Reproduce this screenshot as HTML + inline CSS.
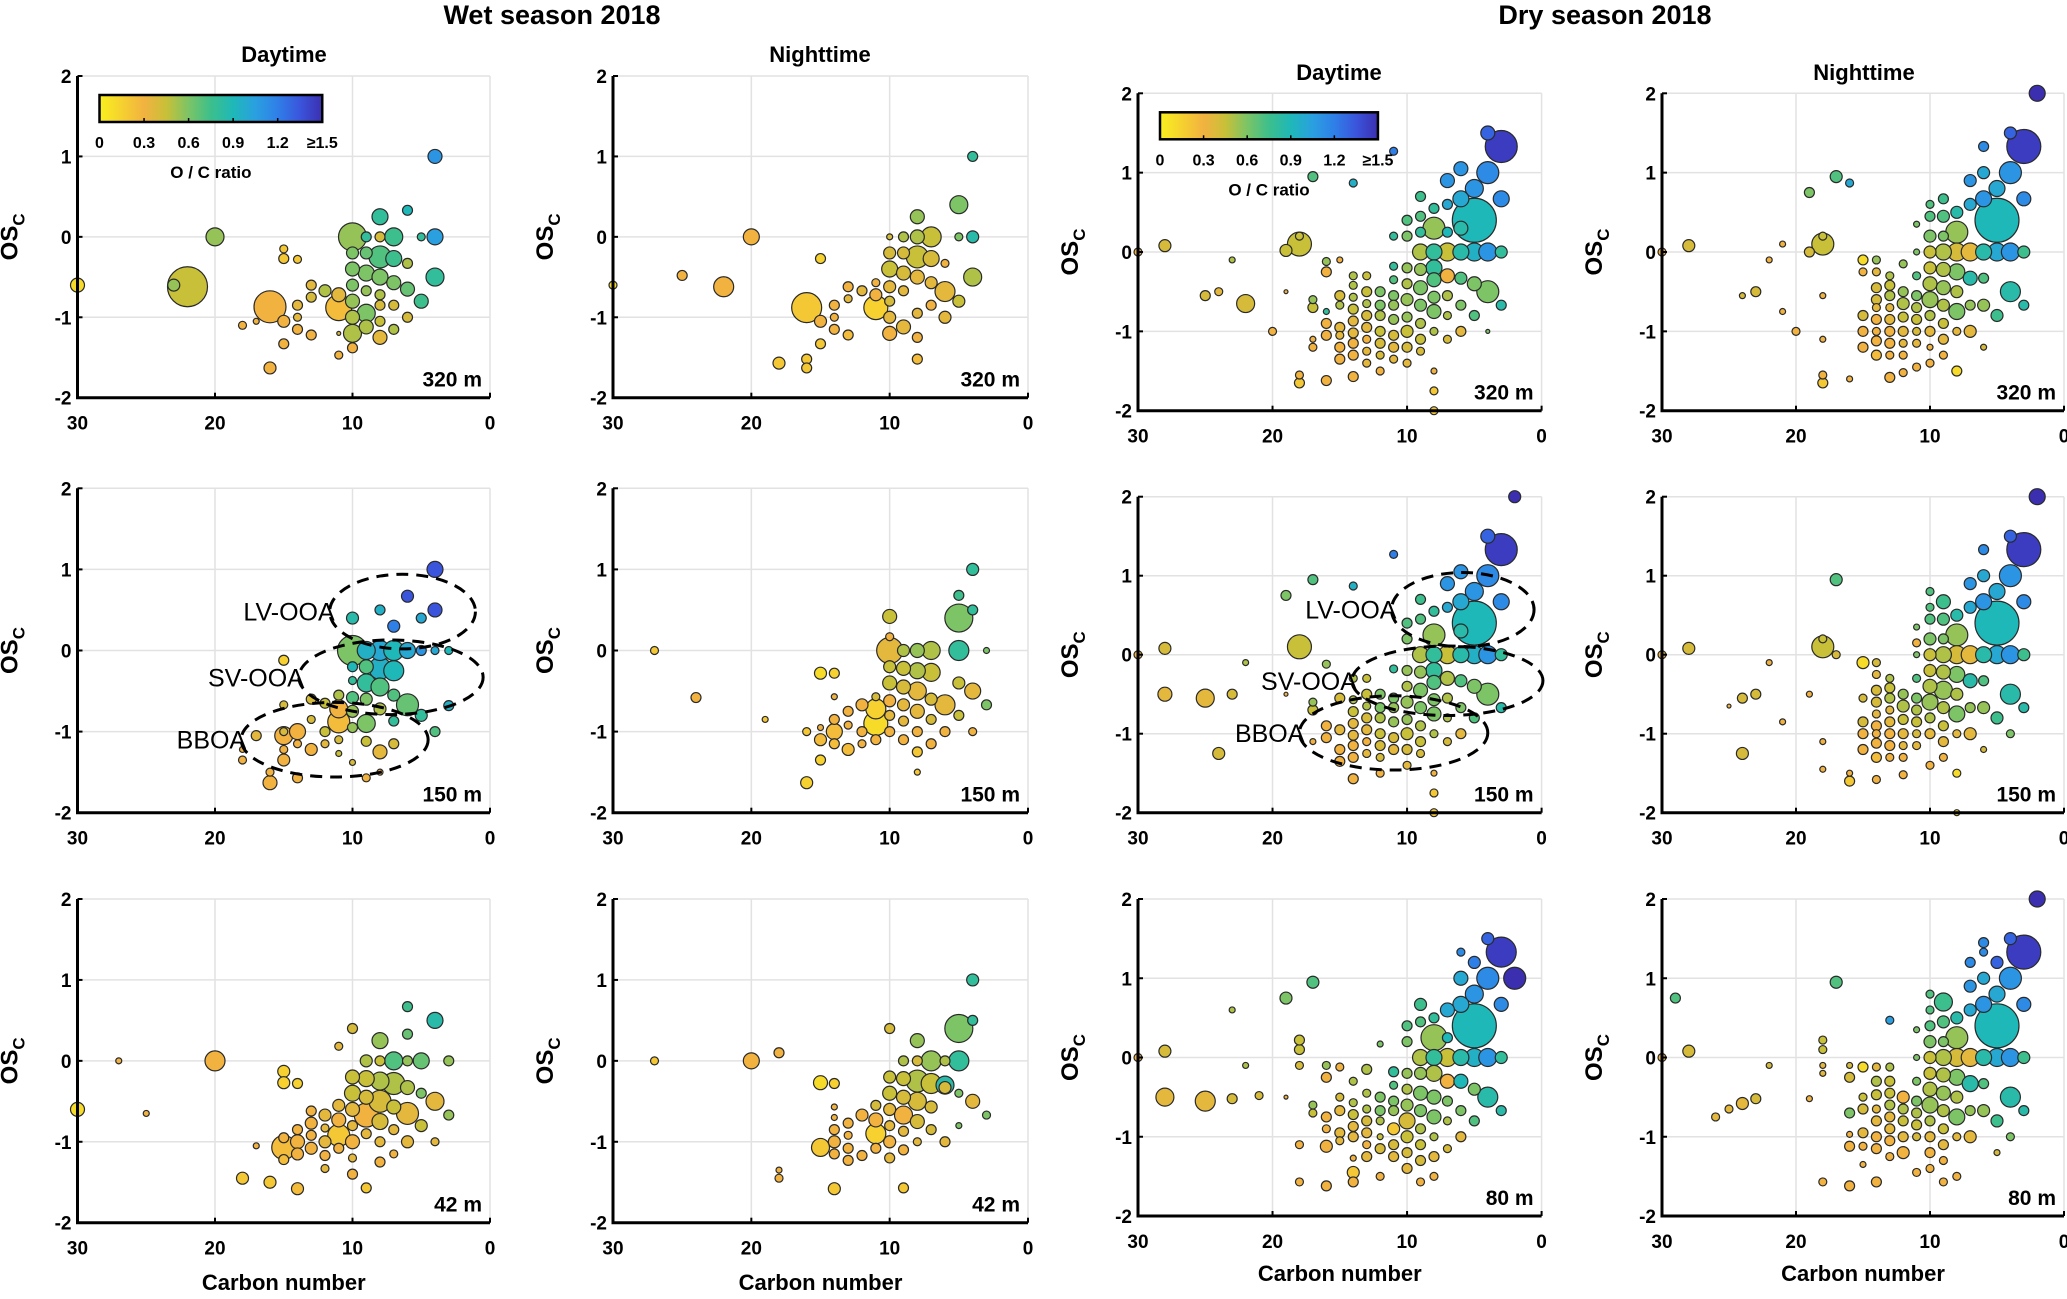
<!DOCTYPE html>
<html><head><meta charset="utf-8"><style>
body{margin:0;background:#fff}
svg text{font-family:"Liberation Sans",Arial,sans-serif}
</style></head><body>
<svg id="fig" width="2067" height="1294" viewBox="0 0 2067 1294" xmlns="http://www.w3.org/2000/svg">
<defs>
<linearGradient id="cmap" x1="0" x2="1" y1="0" y2="0">
<stop offset="0" stop-color="#f9f01e"/><stop offset="0.2" stop-color="#f2b240"/><stop offset="0.3" stop-color="#c8c038"/><stop offset="0.4" stop-color="#7cc466"/><stop offset="0.5" stop-color="#3cbf8c"/><stop offset="0.6" stop-color="#1fb8b8"/><stop offset="0.7" stop-color="#2aa0e0"/><stop offset="0.8" stop-color="#2f7fe8"/><stop offset="0.9" stop-color="#3a55dc"/><stop offset="1" stop-color="#3b2fb0"/>
</linearGradient>
</defs>
<text x="552" y="24" text-anchor="middle" font-size="27" font-weight="bold">Wet season 2018</text>
<text x="1605" y="24" text-anchor="middle" font-size="27" font-weight="bold">Dry season 2018</text>
</svg>
<script>
// [carbon number, OSc, bubble radius, O/C ratio]
const wetDay320=[[30,-0.6,7,0.1],[22,-0.62,20,0.45],[23,-0.6,6,0.55],[20,0,9,0.55],[16,-0.87,16,0.3],[15,-0.15,4,0.2],[15,-0.27,5,0.2],[14,-0.28,4,0.2],[18,-1.1,4,0.3],[17,-1.05,3,0.3],[16,-1.63,6,0.3],[15,-1.05,6,0.3],[15,-1.33,5,0.3],[14,-0.85,5,0.35],[14,-1,4,0.35],[14,-1.15,5,0.3],[13,-0.6,5,0.35],[13,-0.75,5,0.4],[13,-1.22,5,0.3],[12,-0.67,6,0.5],[11,-0.72,7,0.35],[11,-0.88,13,0.25],[11,-1.47,4,0.3],[11,-1.2,2,0.4],[10,-1.38,5,0.3],[10,0,14,0.55],[10,-0.2,6,0.6],[10,-0.4,7,0.6],[10,-0.6,6,0.6],[10,-0.8,7,0.55],[10,-1,7,0.5],[10,-1.2,9,0.5],[9,0,5,0.8],[9,-0.2,6,0.65],[9,-0.45,8,0.6],[9,-0.67,5,0.55],[9,-0.95,9,0.6],[9,-1.12,7,0.5],[8,0.25,8,0.8],[8,0,5,0.4],[8,-0.25,11,0.7],[8,-0.5,8,0.6],[8,-0.72,5,0.5],[8,-0.85,5,0.4],[8,-1.05,5,0.45],[8,-1.25,7,0.35],[7,0,9,0.75],[7,-0.27,8,0.75],[7,-0.57,7,0.6],[7,-0.85,5,0.4],[7,-1.15,5,0.5],[6,0.33,5,0.9],[6,-0.33,5,0.5],[6,-0.65,7,0.65],[6,-1,5,0.4],[5,0,4,0.8],[5,-0.8,7,0.75],[4,1,7,1.1],[4,0,8,1.05],[4,-0.5,9,0.8]];
const wetNight320=[[30,-0.6,4,0.1],[25,-0.48,5,0.3],[22,-0.62,10,0.3],[20,0,8,0.3],[16,-0.88,15,0.2],[15,-0.27,5,0.15],[18,-1.57,6,0.2],[16,-1.52,5,0.2],[16,-1.63,5,0.2],[15,-1.05,6,0.3],[15,-1.33,5,0.2],[14,-0.85,5,0.3],[14,-1,4,0.3],[14,-1.15,5,0.3],[13,-0.62,5,0.3],[13,-0.77,4,0.35],[13,-1.22,5,0.25],[12,-0.67,5,0.35],[11,-0.57,4,0.3],[11,-0.72,6,0.3],[11,-0.88,12,0.15],[10,0,3,0.4],[10,-0.2,6,0.4],[10,-0.4,8,0.45],[10,-0.62,6,0.35],[10,-0.8,5,0.4],[10,-1,6,0.35],[10,-1.2,7,0.3],[9,0,5,0.5],[9,-0.2,6,0.4],[9,-0.45,7,0.4],[9,-0.67,5,0.35],[9,-1.12,7,0.35],[8,0.25,7,0.55],[8,0,7,0.5],[8,-0.25,11,0.45],[8,-0.5,7,0.35],[8,-0.95,5,0.35],[8,-1.25,5,0.3],[8,-1.52,5,0.25],[7,0,10,0.45],[7,-0.27,8,0.4],[7,-0.57,6,0.35],[7,-0.85,5,0.3],[6,-0.33,4,0.3],[6,-0.68,10,0.35],[6,-1,6,0.35],[5,0.4,9,0.6],[5,0,4,0.6],[5,-0.8,6,0.45],[4,1,5,0.8],[4,0,6,0.85],[4,-0.5,9,0.5]];
const wetDay150=[[18,-1.22,3,0.3],[18,-1.35,4,0.3],[17,-1.05,5,0.35],[16,-1.5,4,0.3],[16,-1.63,7,0.3],[15,-0.12,5,0.15],[15,-0.67,4,0.4],[15,-1,4,0.4],[15,-1.05,9,0.3],[15,-1.22,4,0.3],[15,-1.35,6,0.3],[14,-1,8,0.3],[14,-1.15,4,0.3],[14,-1.57,5,0.3],[13,-0.6,5,0.4],[13,-0.85,4,0.4],[13,-1.22,6,0.3],[12,-0.65,5,0.45],[12,-1,5,0.45],[12,-1.15,4,0.35],[11,-0.55,5,0.5],[11,-0.72,9,0.3],[11,-0.88,11,0.25],[11,-1.1,4,0.4],[11,-1.27,3,0.45],[10,0.4,6,0.85],[10,0,15,0.6],[10,-0.2,5,0.9],[10,-0.37,4,0.8],[10,-0.58,6,0.7],[10,-0.75,6,0.55],[10,-0.95,5,0.55],[10,-1.38,3,0.4],[9,0,9,0.95],[9,-0.2,7,0.7],[9,-0.4,9,0.8],[9,-0.6,6,0.6],[9,-0.9,9,0.6],[9,-1.12,5,0.45],[9,-1.57,4,0.3],[8,0.5,5,0.95],[8,0,10,1.0],[8,-0.22,11,0.95],[8,-0.45,9,0.7],[8,-0.72,6,0.5],[8,-1.25,7,0.35],[8,-1.5,3,0.3],[7,0.3,6,1.2],[7,0,10,0.9],[7,-0.25,10,0.9],[7,-0.55,6,0.7],[7,-0.87,5,0.8],[7,-1.15,5,0.4],[6,0.67,6,1.35],[6,0,8,1.0],[6,-0.67,11,0.65],[5,0.4,5,1.0],[5,0,5,1.1],[5,-0.8,6,0.8],[4,1,8,1.35],[4,0.5,7,1.35],[4,0,4,1.0],[4,-1,5,0.7],[3,0,4,0.9],[3,-0.68,5,0.95]];
const wetNight150=[[27,0,4,0.2],[24,-0.58,5,0.3],[19,-0.85,3,0.2],[16,-1,4,0.2],[16,-1.63,6,0.15],[15,-0.28,6,0.1],[15,-0.95,3,0.3],[15,-1.1,6,0.25],[15,-1.35,5,0.15],[14,-0.28,5,0.15],[14,-0.57,3,0.3],[14,-0.85,5,0.3],[14,-1,8,0.25],[14,-1.15,5,0.25],[13,-0.75,5,0.3],[13,-0.92,4,0.3],[13,-1.22,6,0.25],[12,-0.67,6,0.3],[12,-1,5,0.3],[12,-1.15,4,0.3],[11,-0.57,4,0.4],[11,-0.72,10,0.15],[11,-0.9,12,0.1],[11,-1.1,5,0.3],[10,0.42,7,0.45],[10,0.17,4,0.3],[10,0,13,0.35],[10,-0.2,6,0.45],[10,-0.4,7,0.45],[10,-0.62,6,0.3],[10,-0.8,5,0.35],[10,-1,5,0.3],[9,0,6,0.5],[9,-0.22,7,0.45],[9,-0.45,7,0.4],[9,-0.67,6,0.35],[9,-0.87,5,0.35],[9,-1.1,5,0.3],[8,0,7,0.55],[8,-0.25,8,0.5],[8,-0.5,9,0.35],[8,-0.75,7,0.35],[8,-1,5,0.3],[8,-1.25,5,0.2],[8,-1.5,3,0.2],[7,0,9,0.5],[7,-0.27,9,0.45],[7,-0.6,6,0.4],[7,-0.85,5,0.4],[7,-1.15,5,0.3],[6,-0.67,10,0.35],[6,-1,5,0.3],[5,0.68,5,0.75],[5,0.4,14,0.6],[5,0,10,0.8],[5,-0.4,6,0.45],[5,-0.8,5,0.45],[4,1,6,0.8],[4,0.5,5,0.8],[4,-0.5,8,0.35],[4,-1,4,0.3],[3,0,3,0.6],[3,-0.67,5,0.6]];
const wetDay42=[[30,-0.6,7,0.1],[27,0,3,0.3],[25,-0.65,3,0.3],[20,0,10,0.3],[18,-1.45,6,0.2],[17,-1.05,3,0.3],[16,-1.5,6,0.2],[15,-0.13,6,0.15],[15,-0.27,6,0.15],[15,-0.95,5,0.3],[15,-1.07,12,0.25],[15,-1.22,5,0.25],[14,-0.28,5,0.15],[14,-0.85,5,0.3],[14,-1,7,0.3],[14,-1.15,6,0.3],[14,-1.58,6,0.25],[13,-0.62,5,0.3],[13,-0.77,6,0.3],[13,-0.92,5,0.3],[13,-1.08,6,0.3],[12,-0.67,6,0.35],[12,-0.83,4,0.35],[12,-1,6,0.35],[12,-1.17,5,0.3],[12,-1.33,4,0.35],[11,0.18,4,0.35],[11,-0.55,6,0.35],[11,-0.73,7,0.3],[11,-0.92,11,0.2],[11,-1.08,5,0.3],[10,0.4,5,0.4],[10,-0.2,7,0.45],[10,-0.4,8,0.45],[10,-0.6,7,0.35],[10,-0.8,5,0.35],[10,-1,7,0.3],[10,-1.2,4,0.35],[10,-1.4,5,0.3],[9,0,6,0.5],[9,-0.22,8,0.45],[9,-0.45,7,0.4],[9,-0.67,12,0.3],[9,-0.9,5,0.35],[9,-1.57,5,0.2],[8,0.25,8,0.55],[8,0,5,0.45],[8,-0.25,9,0.5],[8,-0.5,11,0.4],[8,-0.75,8,0.4],[8,-1,5,0.35],[8,-1.25,5,0.3],[7,0,9,0.7],[7,-0.28,11,0.5],[7,-0.57,7,0.45],[7,-0.85,5,0.35],[7,-1.15,4,0.3],[6,0.67,5,0.75],[6,0.33,5,0.65],[6,0,5,0.55],[6,-0.33,7,0.5],[6,-0.65,11,0.35],[6,-1,6,0.35],[5,0,8,0.65],[5,-0.4,5,0.6],[5,-0.8,6,0.45],[4,0.5,8,0.85],[4,-0.5,9,0.35],[4,-1,4,0.35],[3,0,5,0.55],[3,-0.67,5,0.55]];
const wetNight42=[[27,0,4,0.2],[20,0,8,0.3],[18,0.1,5,0.3],[18,-1.35,3,0.3],[18,-1.45,4,0.3],[15,-0.27,7,0.1],[15,-1.07,9,0.2],[14,-0.28,5,0.15],[14,-0.57,3,0.3],[14,-0.7,3,0.3],[14,-0.85,5,0.3],[14,-1,6,0.3],[14,-1.15,5,0.3],[14,-1.58,6,0.2],[13,-0.77,5,0.3],[13,-0.92,4,0.3],[13,-1.08,5,0.3],[13,-1.23,5,0.3],[12,-0.67,6,0.3],[12,-1.17,5,0.3],[11,-0.55,5,0.4],[11,-0.73,7,0.3],[11,-0.9,10,0.15],[11,-1.08,5,0.3],[10,0.4,5,0.4],[10,-0.2,6,0.45],[10,-0.4,7,0.45],[10,-0.6,6,0.35],[10,-0.8,5,0.35],[10,-1,6,0.3],[10,-1.2,5,0.35],[9,0,5,0.5],[9,-0.22,7,0.45],[9,-0.45,7,0.4],[9,-0.67,9,0.3],[9,-0.87,5,0.35],[9,-1.1,5,0.3],[9,-1.57,5,0.2],[8,0.25,7,0.55],[8,0,5,0.4],[8,-0.25,11,0.5],[8,-0.5,9,0.4],[8,-0.75,7,0.4],[8,-1,4,0.35],[7,0,10,0.55],[7,-0.28,10,0.45],[7,-0.57,6,0.4],[7,-0.85,5,0.4],[6,0,5,0.5],[6,-0.3,9,0.85],[6,-0.33,6,0.4],[6,-1,5,0.35],[5,0.4,14,0.6],[5,0,10,0.8],[5,-0.4,4,0.6],[5,-0.8,3,0.6],[4,1,6,0.8],[4,0.5,5,0.8],[4,-0.5,7,0.35],[3,-0.67,4,0.6]];
const dryDay320=[[30,0,4,0.3],[28,0.08,6,0.4],[23,-0.1,3,0.5],[24,-0.5,4,0.35],[25,-0.55,5,0.4],[22,-0.65,9,0.4],[20,-1,4,0.3],[19,-0.5,2,0.3],[18,0.1,12,0.45],[18,0.2,4,0.45],[19,0.02,6,0.45],[17,0.95,5,0.7],[16,-0.12,4,0.55],[16,-0.25,5,0.3],[17,-0.6,4,0.55],[17,-0.7,5,0.45],[16,-0.75,3,0.8],[16,-0.9,5,0.3],[16,-1.05,5,0.3],[17,-1.1,3,0.3],[17,-1.2,4,0.3],[18,-1.55,4,0.3],[18,-1.65,5,0.2],[16,-1.62,5,0.3],[15,-0.1,3,0.3],[15,-0.55,5,0.4],[15,-0.67,4,0.5],[15,-0.95,5,0.35],[15,-1.05,4,0.35],[15,-1.2,5,0.3],[15,-1.35,5,0.3],[14,0.87,4,0.95],[14,-0.3,4,0.5],[14,-0.42,4,0.5],[14,-0.57,4,0.5],[14,-0.72,5,0.45],[14,-0.87,5,0.35],[14,-1.02,5,0.35],[14,-1.15,5,0.3],[14,-1.3,5,0.3],[14,-1.57,5,0.3],[13,-0.3,4,0.45],[13,-0.5,5,0.45],[13,-0.65,4,0.5],[13,-0.8,5,0.4],[13,-0.95,5,0.35],[13,-1.1,4,0.3],[13,-1.25,4,0.35],[13,-1.4,4,0.35],[12,-0.5,5,0.6],[12,-0.67,5,0.6],[12,-0.8,5,0.5],[12,-1,5,0.45],[12,-1.15,5,0.4],[12,-1.3,4,0.4],[12,-1.5,4,0.3],[11,1.27,4,1.2],[11,0.2,4,0.8],[11,-0.18,4,0.8],[11,-0.35,4,0.7],[11,-0.55,5,0.6],[11,-0.67,5,0.55],[11,-0.85,5,0.55],[11,-1.05,5,0.4],[11,-1.2,5,0.35],[11,-1.35,4,0.35],[10,0.4,5,0.7],[10,0.2,5,0.6],[10,-0.2,5,0.55],[10,-0.4,5,0.5],[10,-0.6,6,0.55],[10,-0.82,5,0.55],[10,-1,6,0.45],[10,-1.2,5,0.4],[10,-1.4,4,0.35],[9,0.7,5,0.75],[9,0.45,5,0.7],[9,0.25,5,0.8],[9,0,8,0.5],[9,-0.22,6,0.55],[9,-0.45,7,0.6],[9,-0.67,6,0.6],[9,-0.9,5,0.5],[9,-1.1,5,0.45],[9,-1.25,4,0.4],[8,0.55,5,0.8],[8,0.3,11,0.55],[8,0,8,0.8],[8,-0.2,8,0.8],[8,-0.35,7,0.7],[8,-0.57,6,0.6],[8,-0.75,7,0.6],[8,-1,4,0.5],[8,-1.5,3,0.3],[8,-1.75,4,0.2],[8,-2,4,0.2],[7,0.9,7,1.1],[7,0.6,5,1.0],[7,0.25,5,0.9],[7,0,9,0.45],[7,-0.3,7,0.3],[7,-0.55,5,0.5],[7,-0.8,4,0.5],[7,-1.1,4,0.4],[6,1.05,7,1.1],[6,0.67,8,1.0],[6,0.3,7,0.85],[6,0,8,0.85],[6,-0.33,6,0.7],[6,-0.67,5,0.6],[6,-1,5,0.35],[5,0.8,9,1.1],[5,0.4,22,0.9],[5,0,9,0.95],[5,-0.4,7,0.6],[5,-0.8,5,0.7],[4,1.5,7,1.3],[4,1,11,1.15],[4,0,9,1.1],[4,-0.5,11,0.6],[4,-1,2,0.6],[3,1.33,16,1.45],[3,0.67,8,1.15],[3,0,6,0.8],[3,-0.67,5,0.85]];
const dryNight320=[[30,0,4,0.3],[28,0.08,6,0.4],[24,-0.55,3,0.4],[23,-0.5,5,0.4],[21,-0.75,3,0.3],[20,-1,4,0.3],[21,0.1,3,0.3],[22,-0.1,3,0.3],[19,0.75,5,0.6],[17,0.95,6,0.7],[18,0.1,11,0.45],[18,0.2,4,0.45],[19,0,5,0.4],[18,-0.55,3,0.3],[18,-1.1,3,0.3],[18,-1.55,4,0.3],[18,-1.65,5,0.2],[16,0.87,4,1.0],[16,-1.6,3,0.3],[15,-0.1,5,0.1],[15,-0.25,4,0.3],[15,-0.8,5,0.4],[15,-1,5,0.3],[15,-1.2,5,0.3],[14,-0.1,4,0.55],[14,-0.25,4,0.35],[14,-0.45,5,0.4],[14,-0.6,5,0.4],[14,-0.7,4,0.35],[14,-0.85,5,0.3],[14,-1,4,0.3],[14,-1.12,5,0.3],[14,-1.3,5,0.25],[13,-0.3,4,0.5],[13,-0.42,5,0.45],[13,-0.55,5,0.5],[13,-0.7,4,0.35],[13,-0.85,5,0.35],[13,-1,5,0.3],[13,-1.15,5,0.3],[13,-1.3,4,0.3],[13,-1.58,5,0.3],[12,-0.15,4,0.55],[12,-0.5,5,0.55],[12,-0.65,6,0.5],[12,-0.82,5,0.45],[12,-1,5,0.35],[12,-1.15,4,0.35],[12,-1.3,4,0.3],[12,-1.52,4,0.3],[11,0.35,3,0.6],[11,0,3,0.6],[11,-0.3,4,0.7],[11,-0.55,5,0.6],[11,-0.7,5,0.5],[11,-0.85,5,0.45],[11,-1,4,0.4],[11,-1.15,4,0.35],[11,-1.45,4,0.3],[10,0.6,4,0.7],[10,0.45,5,0.7],[10,0.2,6,0.6],[10,0,6,0.45],[10,-0.2,6,0.45],[10,-0.4,7,0.5],[10,-0.6,8,0.55],[10,-0.8,5,0.5],[10,-1,5,0.35],[10,-1.2,3,0.3],[10,-1.4,4,0.3],[9,0.67,5,0.75],[9,0.45,6,0.7],[9,0.2,5,0.6],[9,0,8,0.5],[9,-0.22,7,0.5],[9,-0.45,7,0.55],[9,-0.67,6,0.5],[9,-0.9,5,0.45],[9,-1.1,5,0.35],[9,-1.3,4,0.3],[8,0.5,6,0.85],[8,0.25,11,0.55],[8,0,9,0.4],[8,-0.25,8,0.6],[8,-0.5,6,0.5],[8,-0.75,8,0.6],[8,-1,4,0.35],[8,-1.5,5,0.1],[7,0.9,6,1.1],[7,0.6,6,1.0],[7,0,9,0.35],[7,-0.33,7,0.85],[7,-0.67,5,0.55],[7,-1,6,0.35],[6,1.33,5,1.15],[6,1.0,6,1.0],[6,0.67,8,1.1],[6,0,8,0.85],[6,-0.33,5,0.7],[6,-0.67,6,0.55],[6,-1.2,3,0.4],[5,0.8,8,1.0],[5,0.4,22,0.9],[5,0,9,1.0],[5,-0.8,6,0.75],[4,1.5,6,1.3],[4,1,11,1.1],[4,0,9,1.1],[4,-0.5,10,0.85],[3,1.33,17,1.45],[3,0.67,7,1.15],[3,0,6,0.75],[3,-0.67,5,0.85],[2,2,8,1.6]];
const dryDay150=[[30,0,4,0.3],[28,0.08,6,0.4],[28,-0.5,7,0.35],[25,-0.55,9,0.35],[23,-0.5,5,0.4],[24,-1.25,6,0.4],[22,-0.1,3,0.5],[19,0.75,5,0.6],[19,-0.5,2,0.3],[18,0.1,12,0.45],[17,0.95,5,0.7],[16,-0.12,4,0.55],[17,-0.6,4,0.55],[17,-0.7,5,0.45],[16,-0.9,5,0.3],[16,-1.05,5,0.3],[17,-1.1,3,0.3],[15,-0.55,5,0.4],[15,-0.95,5,0.35],[15,-1.2,5,0.3],[15,-1.35,5,0.3],[14,0.87,4,0.95],[14,-0.3,4,0.5],[14,-0.57,4,0.5],[14,-0.72,5,0.45],[14,-0.87,5,0.35],[14,-1.02,5,0.35],[14,-1.15,5,0.3],[14,-1.3,5,0.3],[14,-1.57,5,0.3],[13,-0.3,4,0.45],[13,-0.5,5,0.45],[13,-0.65,4,0.5],[13,-0.8,5,0.4],[13,-0.95,5,0.35],[13,-1.1,4,0.3],[13,-1.25,4,0.35],[12,-0.5,5,0.6],[12,-0.67,5,0.6],[12,-0.8,5,0.5],[12,-1,5,0.45],[12,-1.15,5,0.4],[12,-1.3,4,0.4],[12,-1.5,4,0.3],[11,1.27,4,1.2],[11,-0.18,4,0.8],[11,-0.55,5,0.6],[11,-0.67,5,0.55],[11,-0.85,5,0.55],[11,-1.05,5,0.4],[11,-1.2,5,0.35],[10,0.4,5,0.7],[10,0.2,5,0.6],[10,-0.2,5,0.55],[10,-0.4,5,0.5],[10,-0.6,6,0.55],[10,-0.82,5,0.55],[10,-1,6,0.45],[10,-1.2,5,0.4],[10,-1.4,4,0.35],[9,0.7,5,0.75],[9,0.45,5,0.7],[9,0,8,0.5],[9,-0.22,6,0.55],[9,-0.45,7,0.6],[9,-0.67,6,0.6],[9,-0.9,5,0.5],[9,-1.1,5,0.45],[9,-1.25,4,0.4],[8,0.55,5,0.8],[8,0.25,11,0.55],[8,0,8,0.8],[8,-0.2,8,0.8],[8,-0.35,7,0.7],[8,-0.57,6,0.6],[8,-0.75,7,0.6],[8,-1,4,0.5],[8,-1.5,3,0.3],[8,-1.75,4,0.2],[8,-2,4,0.2],[7,0.9,7,1.1],[7,0.6,5,1.0],[7,0,9,0.45],[7,-0.3,7,0.5],[7,-0.55,5,0.5],[7,-0.8,4,0.5],[7,-1.1,4,0.4],[6,1.05,7,1.1],[6,0.67,8,1.0],[6,0.3,7,0.85],[6,0,8,0.85],[6,-0.33,6,0.7],[6,-0.67,5,0.6],[6,-1,5,0.35],[5,0.8,9,1.1],[5,0.4,22,0.9],[5,0,9,0.95],[5,-0.4,7,0.6],[5,-0.8,5,0.7],[4,1.5,7,1.3],[4,1,11,1.15],[4,0,9,1.1],[4,-0.5,11,0.6],[3,1.33,16,1.45],[3,0.67,8,1.15],[3,0,6,0.8],[3,-0.67,5,0.85],[2,2,6,1.6]];
const dryNight150=[[30,0,4,0.3],[28,0.08,6,0.4],[25,-0.65,2,0.3],[24,-0.55,5,0.4],[23,-0.5,5,0.4],[24,-1.25,6,0.4],[21,-0.85,3,0.3],[22,-0.1,3,0.3],[17,0.95,6,0.7],[18,0.1,11,0.45],[18,0.2,4,0.45],[17,0,4,0.4],[19,-0.5,3,0.3],[18,-1.1,3,0.3],[18,-1.45,3,0.3],[16,-1.6,5,0.2],[16,-1.5,3,0.3],[15,-0.1,6,0.1],[15,-0.55,4,0.4],[15,-0.85,5,0.4],[15,-1,5,0.3],[15,-1.2,5,0.3],[14,-0.1,4,0.4],[14,-0.25,4,0.35],[14,-0.45,5,0.4],[14,-0.6,5,0.4],[14,-0.75,4,0.35],[14,-0.9,5,0.3],[14,-1,4,0.3],[14,-1.12,5,0.3],[14,-1.3,5,0.25],[14,-1.58,4,0.3],[13,-0.3,4,0.5],[13,-0.42,5,0.45],[13,-0.55,5,0.5],[13,-0.7,4,0.35],[13,-0.85,5,0.35],[13,-1,5,0.3],[13,-1.15,5,0.3],[13,-1.3,4,0.3],[12,-0.5,5,0.55],[12,-0.65,6,0.5],[12,-0.82,5,0.45],[12,-1,5,0.35],[12,-1.15,4,0.35],[12,-1.3,4,0.3],[12,-1.52,4,0.3],[11,0.35,3,0.6],[11,0.15,4,0.3],[11,0,3,0.6],[11,-0.3,4,0.7],[11,-0.55,5,0.6],[11,-0.7,5,0.5],[11,-0.85,5,0.45],[11,-1,4,0.4],[11,-1.15,4,0.35],[10,0.8,4,0.7],[10,0.6,4,0.7],[10,0.45,5,0.7],[10,0.2,6,0.6],[10,0,6,0.45],[10,-0.2,6,0.45],[10,-0.4,7,0.5],[10,-0.6,8,0.55],[10,-0.8,5,0.5],[10,-1,5,0.35],[10,-1.4,4,0.3],[9,0.67,7,0.75],[9,0.45,6,0.7],[9,0.2,5,0.6],[9,0,8,0.5],[9,-0.22,7,0.5],[9,-0.45,9,0.55],[9,-0.67,6,0.5],[9,-0.9,5,0.45],[9,-1.1,5,0.35],[9,-1.3,4,0.3],[8,0.5,6,0.85],[8,0.25,11,0.55],[8,0,9,0.4],[8,-0.25,8,0.6],[8,-0.5,6,0.5],[8,-0.75,8,0.6],[8,-1,4,0.35],[8,-1.5,4,0.1],[8,-2,3,0.1],[7,0.9,6,1.1],[7,0.6,6,1.0],[7,0,9,0.35],[7,-0.33,7,0.85],[7,-0.67,5,0.55],[7,-1,6,0.35],[6,1.33,5,1.15],[6,1.0,6,1.0],[6,0.67,8,1.1],[6,0,8,0.85],[6,-0.33,5,0.7],[6,-0.67,6,0.55],[6,-1.2,3,0.4],[5,0.8,8,1.0],[5,0.4,22,0.9],[5,0,9,1.0],[5,-0.8,6,0.75],[4,1.5,6,1.3],[4,1,11,1.1],[4,0,9,1.1],[4,-0.5,10,0.85],[4,-1,4,0.6],[3,1.33,17,1.45],[3,0.67,7,1.15],[3,0,6,0.75],[3,-0.67,5,0.85],[2,2,8,1.6]];
const dryDay80=[[30,0,4,0.3],[28,0.08,6,0.4],[28,-0.5,9,0.35],[25,-0.55,10,0.35],[23,-0.52,5,0.4],[21,-0.48,4,0.4],[23,0.6,3,0.5],[22,-0.1,3,0.5],[19,0.75,6,0.6],[19,-0.5,2,0.3],[18,0.1,5,0.45],[18,0.22,5,0.45],[18,-0.1,4,0.4],[17,0.95,6,0.7],[17,-0.6,4,0.55],[17,-0.7,4,0.45],[18,-1.1,4,0.3],[18,-1.57,4,0.3],[16,-1.62,5,0.3],[16,-0.1,4,0.55],[16,-0.25,5,0.3],[16,-0.75,5,0.3],[16,-0.9,4,0.3],[16,-1.12,6,0.3],[15,-0.12,4,0.3],[15,-0.5,4,0.4],[15,-0.67,5,0.35],[15,-0.95,5,0.35],[15,-1.05,4,0.35],[14,-0.3,4,0.5],[14,-0.57,4,0.5],[14,-0.72,5,0.45],[14,-0.87,5,0.35],[14,-1,5,0.35],[14,-1.27,3,0.3],[14,-1.45,6,0.2],[14,-1.57,5,0.3],[13,-0.15,5,0.5],[13,-0.45,4,0.5],[13,-0.65,4,0.5],[13,-0.8,5,0.4],[13,-0.95,5,0.35],[13,-1.1,4,0.3],[13,-1.25,5,0.35],[12,-0.5,5,0.6],[12,-0.67,5,0.6],[12,-0.8,4,0.5],[12,-1,3,0.45],[12,-1.15,5,0.4],[12,-1.5,4,0.3],[12,0.17,3,0.6],[11,-0.18,5,0.8],[11,-0.35,4,0.7],[11,-0.55,5,0.6],[11,-0.67,5,0.55],[11,-0.9,6,0.2],[11,-1.1,5,0.4],[11,-1.25,5,0.35],[10,0.4,5,0.7],[10,0.2,5,0.6],[10,-0.2,5,0.55],[10,-0.4,5,0.5],[10,-0.6,6,0.55],[10,-0.8,8,0.4],[10,-1,6,0.45],[10,-1.2,5,0.4],[10,-1.4,5,0.35],[9,0.67,6,0.75],[9,0.45,5,0.7],[9,0,8,0.5],[9,-0.2,6,0.55],[9,-0.45,7,0.6],[9,-0.67,6,0.6],[9,-0.9,5,0.5],[9,-1.1,5,0.45],[9,-1.3,5,0.4],[9,-1.57,4,0.3],[8,0.5,5,0.8],[8,0.25,13,0.55],[8,0,8,0.8],[8,-0.2,8,0.5],[8,-0.5,7,0.6],[8,-0.75,7,0.6],[8,-1,4,0.5],[8,-1.25,5,0.35],[8,-1.5,4,0.3],[7,0.6,7,1.0],[7,0.25,5,0.9],[7,0,9,0.45],[7,-0.3,7,0.3],[7,-0.55,5,0.6],[7,-0.8,4,0.5],[7,-1.15,4,0.4],[6,1.33,4,1.15],[6,1.0,7,1.0],[6,0.67,8,1.0],[6,0,8,0.85],[6,-0.3,7,0.9],[6,-0.67,5,0.6],[6,-1,5,0.35],[5,1.2,6,1.2],[5,0.8,9,1.1],[5,0.4,22,0.9],[5,0,9,0.95],[5,-0.4,6,0.6],[5,-0.8,5,0.7],[4,1.5,6,1.3],[4,1,11,1.15],[4,0,9,1.1],[4,-0.5,10,0.85],[3,1.33,15,1.45],[3,0.67,7,1.15],[3,0,6,0.8],[3,-0.67,5,0.85],[2,1.0,11,1.55]];
const dryNight80=[[30,0,4,0.3],[28,0.08,6,0.4],[29,0.75,5,0.7],[26,-0.75,4,0.35],[25,-0.65,4,0.35],[24,-0.58,6,0.35],[23,-0.52,5,0.4],[22,-0.1,3,0.4],[19,-0.52,3,0.3],[17,0.95,6,0.7],[18,0.22,4,0.45],[18,0.1,4,0.45],[18,-0.1,3,0.35],[18,-0.2,3,0.35],[18,-1.57,4,0.3],[16,-0.1,3,0.4],[16,-0.25,5,0.4],[16,-0.7,5,0.6],[16,-0.97,3,0.3],[16,-1.12,5,0.3],[16,-1.62,5,0.3],[15,-0.12,5,0.1],[15,-0.5,4,0.45],[15,-0.65,5,0.4],[15,-0.95,5,0.35],[15,-1.12,4,0.3],[15,-1.35,3,0.3],[14,-0.12,4,0.35],[14,-0.3,5,0.5],[14,-0.47,5,0.45],[14,-0.65,4,0.35],[14,-0.8,5,0.35],[14,-1,5,0.3],[14,-1.15,5,0.3],[14,-1.57,5,0.3],[13,-0.12,4,0.5],[13,-0.3,5,0.45],[13,0.47,4,1.05],[13,-0.45,5,0.45],[13,-0.6,5,0.5],[13,-0.75,5,0.35],[13,-0.9,5,0.35],[13,-1.05,5,0.3],[13,-1.25,4,0.3],[12,-0.5,6,0.3],[12,-0.65,5,0.5],[12,-0.8,5,0.45],[12,-1,5,0.35],[12,-1.2,6,0.3],[11,0.35,3,0.6],[11,0,3,0.6],[11,-0.3,4,0.6],[11,-0.55,5,0.6],[11,-0.7,5,0.5],[11,-0.85,5,0.45],[11,-1,4,0.4],[11,-1.45,4,0.3],[10,0.8,4,0.7],[10,0.6,4,0.7],[10,0.4,5,0.7],[10,0.2,6,0.6],[10,0,6,0.45],[10,-0.2,6,0.45],[10,-0.4,7,0.5],[10,-0.6,8,0.55],[10,-0.8,5,0.5],[10,-1,5,0.35],[10,-1.2,5,0.3],[10,-1.4,4,0.3],[9,0.7,9,0.75],[9,0.45,6,0.7],[9,0.2,5,0.6],[9,0,8,0.5],[9,-0.22,7,0.5],[9,-0.45,7,0.55],[9,-0.67,6,0.5],[9,-0.9,5,0.45],[9,-1.1,5,0.35],[9,-1.3,4,0.3],[9,-1.57,4,0.3],[8,0.5,6,0.85],[8,0.25,11,0.55],[8,0,9,0.4],[8,-0.25,8,0.6],[8,-0.5,6,0.5],[8,-0.75,8,0.6],[8,-1,4,0.35],[8,-1.5,4,0.3],[7,1.2,5,1.15],[7,0.9,6,1.1],[7,0.6,6,1.0],[7,0,9,0.35],[7,-0.33,8,0.85],[7,-0.67,5,0.55],[7,-1,6,0.35],[6,1.45,5,1.15],[6,1.33,4,1.15],[6,1.0,6,1.0],[6,0.67,8,1.1],[6,0,8,0.85],[6,-0.33,5,0.7],[6,-0.67,6,0.55],[5,1.2,6,1.3],[5,0.8,8,1.0],[5,0.4,22,0.9],[5,0,9,1.0],[5,-0.8,6,0.75],[5,-1.2,3,0.4],[4,1.5,6,1.3],[4,1,11,1.1],[4,0,9,1.1],[4,-0.5,10,0.85],[4,-1,4,0.6],[3,1.33,17,1.45],[3,0.67,7,1.15],[3,0,6,0.75],[3,-0.67,5,0.85],[2,2,8,1.6]];
const xTicks=[30,20,10,0];
const yTicks=[2,1,0,-1,-2];
const cbTicks=[0,0.3,0.6,0.9,1.2,1.5];
const cbLabels=["0","0.3","0.6","0.9","1.2","\u22651.5"];

const NS="http://www.w3.org/2000/svg";
const svg=document.getElementById('fig');
function mk(tag,attrs,parent){const e=document.createElementNS(NS,tag);for(const k in attrs)e.setAttribute(k,attrs[k]);(parent||svg).appendChild(e);return e;}
const stops=[[0,[249,240,30]],[0.3,[242,178,64]],[0.45,[200,192,56]],[0.6,[124,196,102]],[0.75,[60,191,140]],[0.9,[31,184,184]],[1.05,[42,160,224]],[1.2,[47,127,232]],[1.35,[58,85,220]],[1.5,[59,47,176]]];
function cmap(v){v=Math.max(0,Math.min(1.5,v));for(let i=1;i<stops.length;i++){if(v<=stops[i][0]){const a=stops[i-1],b=stops[i];const t=(v-a[0])/(b[0]-a[0]);const c=a[1].map((x,j)=>Math.round(x+(b[1][j]-x)*t));return `rgb(${c[0]},${c[1]},${c[2]})`;}}return 'rgb(59,47,176)';}

const panels=[
{id:'wet-day-320',data:wetDay320,x0:77.5,x1:490,y0:76,y1:397.7,alt:'320 m',cb:true},
{id:'wet-night-320',data:wetNight320,x0:613,x1:1028,y0:76,y1:397.7,alt:'320 m'},
{id:'wet-day-150',data:wetDay150,x0:77.5,x1:490,y0:488.3,y1:812.7,alt:'150 m',ell:true},
{id:'wet-night-150',data:wetNight150,x0:613,x1:1028,y0:488.3,y1:812.7,alt:'150 m'},
{id:'wet-day-42',data:wetDay42,x0:77.5,x1:490,y0:899,y1:1222.7,alt:'42 m',xl:1290},
{id:'wet-night-42',data:wetNight42,x0:613,x1:1028,y0:899,y1:1222.7,alt:'42 m',xl:1290},
{id:'dry-day-320',data:dryDay320,x0:1138,x1:1541.6,y0:93.3,y1:410.7,alt:'320 m',cb:true},
{id:'dry-night-320',data:dryNight320,x0:1662,x1:2064,y0:93.3,y1:410.7,alt:'320 m'},
{id:'dry-day-150',data:dryDay150,x0:1138,x1:1541.6,y0:496.7,y1:812.7,alt:'150 m',ell:true},
{id:'dry-night-150',data:dryNight150,x0:1662,x1:2064,y0:496.7,y1:812.7,alt:'150 m'},
{id:'dry-day-80',data:dryDay80,x0:1138,x1:1541.6,y0:899,y1:1216,alt:'80 m',xl:1281},
{id:'dry-night-80',data:dryNight80,x0:1662,x1:2064,y0:899,y1:1216,alt:'80 m',xl:1281}];

const ellipsesWet=[['LV-OOA',6.36,0.48,5.3,0.46],['SV-OOA',7.2,-0.33,6.7,0.46],['BBOA',11.3,-1.1,6.8,0.46]];
const ellipsesDry=[['LV-OOA',5.86,0.57,5.3,0.47],['SV-OOA',7.0,-0.33,7.1,0.44],['BBOA',11.0,-0.99,7.0,0.47]];

panels.forEach(p=>{
  const g=mk('g',{});
  
  
  const X=c=>p.x0+(30-c)/30*(p.x1-p.x0);
  const Y=o=>p.y0+(2-o)/4*(p.y1-p.y0);
  xTicks.forEach(t=>{const l=mk('line',{x1:X(t),x2:X(t),y1:p.y0,y2:p.y1,stroke:'#e2e2e2','stroke-width':1.5},g);});
  yTicks.forEach(t=>{const l=mk('line',{x1:p.x0,x2:p.x1,y1:Y(t),y2:Y(t),stroke:'#e2e2e2','stroke-width':1.5},g);});
  const pts=p.data.slice().sort((a,b)=>b[2]-a[2]);
  pts.forEach(d=>{const c=mk('circle',{cx:X(d[0]),cy:Y(d[1]),r:d[2],fill:cmap(d[3]),stroke:'#2a2a2a','stroke-width':1.2},g);
    
    });
  const ax=mk('path',{d:`M${p.x0},${p.y0} L${p.x0},${p.y1} L${p.x1},${p.y1}`,fill:'none',stroke:'#000','stroke-width':3},g);
  
  xTicks.forEach(t=>{mk('line',{x1:X(t),x2:X(t),y1:p.y1,y2:p.y1-5,stroke:'#000','stroke-width':2},g);
    const tx=mk('text',{x:X(t),y:p.y1+32,'text-anchor':'middle','font-size':19,'font-weight':'bold'},g);tx.textContent=t;
    });
  yTicks.forEach(t=>{mk('line',{x1:p.x0,x2:p.x0+5,y1:Y(t),y2:Y(t),stroke:'#000','stroke-width':2},g);
    const tx=mk('text',{x:p.x0-6,y:Y(t)+7,'text-anchor':'end','font-size':19,'font-weight':'bold'},g);tx.textContent=t;
    });
  const yc=(p.y0+p.y1)/2, xt=p.x0-60;
  const yl=mk('text',{x:xt,y:yc,transform:`rotate(-90 ${xt} ${yc})`,'text-anchor':'middle','font-size':24,'font-weight':'bold'},g);
  
  yl.innerHTML='OS<tspan font-size="17" dy="7">C</tspan>';
  const al=mk('text',{x:p.x1-8,y:p.y1-11,'text-anchor':'end','font-size':21,'font-weight':'bold'},g);al.textContent=p.alt;
  
  if(p.xl){const xl=mk('text',{x:(p.x0+p.x1)/2,y:p.xl,'text-anchor':'middle','font-size':22,'font-weight':'bold'},g);xl.textContent='Carbon number';
    }
  if(p.cb){const cx0=p.x0+22,cw=(p.x1-p.x0)*0.54,cy0=p.y0+19,ch=27;
    const r=mk('rect',{x:cx0,y:cy0,width:cw,height:ch,fill:'url(#cmap)',stroke:'#000','stroke-width':2.5},g);
    
    cbTicks.forEach((t,i)=>{const tx=cx0+t/1.5*cw;mk('line',{x1:tx,x2:tx,y1:cy0+ch,y2:cy0+ch-4,stroke:'#000','stroke-width':1.5},g);
      const l=mk('text',{x:tx,y:cy0+ch+26,'text-anchor':'middle','font-size':16,'font-weight':'bold'},g);l.textContent=cbLabels[i];
      });
    const cl=mk('text',{x:cx0+cw/2,y:cy0+ch+56,'text-anchor':'middle','font-size':17,'font-weight':'bold'},g);cl.textContent='O / C ratio';
    }
  if(p.ell){const E=p.id.startsWith('wet')?ellipsesWet:ellipsesDry;
    E.forEach(e=>{const ex=X(e[1]),ey=Y(e[2]),rx=e[3]/30*(p.x1-p.x0),ry=e[4]/4*(p.y1-p.y0);
      const el=mk('ellipse',{cx:ex,cy:ey,rx:rx,ry:ry,fill:'none',stroke:'#000','stroke-width':3,'stroke-dasharray':'12 8'},g);
      
      const t=mk('text',{x:ex-rx+5,y:ey+9,'text-anchor':'end','font-size':25},g);t.textContent=e[0];
      });}
});
const titles=[['Daytime',284,62],['Nighttime',820,62],['Daytime',1339,80],['Nighttime',1864,80]];
titles.forEach(t=>{const e=mk('text',{x:t[1],y:t[2],'text-anchor':'middle','font-size':22,'font-weight':'bold'});e.textContent=t[0];
  });
</script>
</body></html>
